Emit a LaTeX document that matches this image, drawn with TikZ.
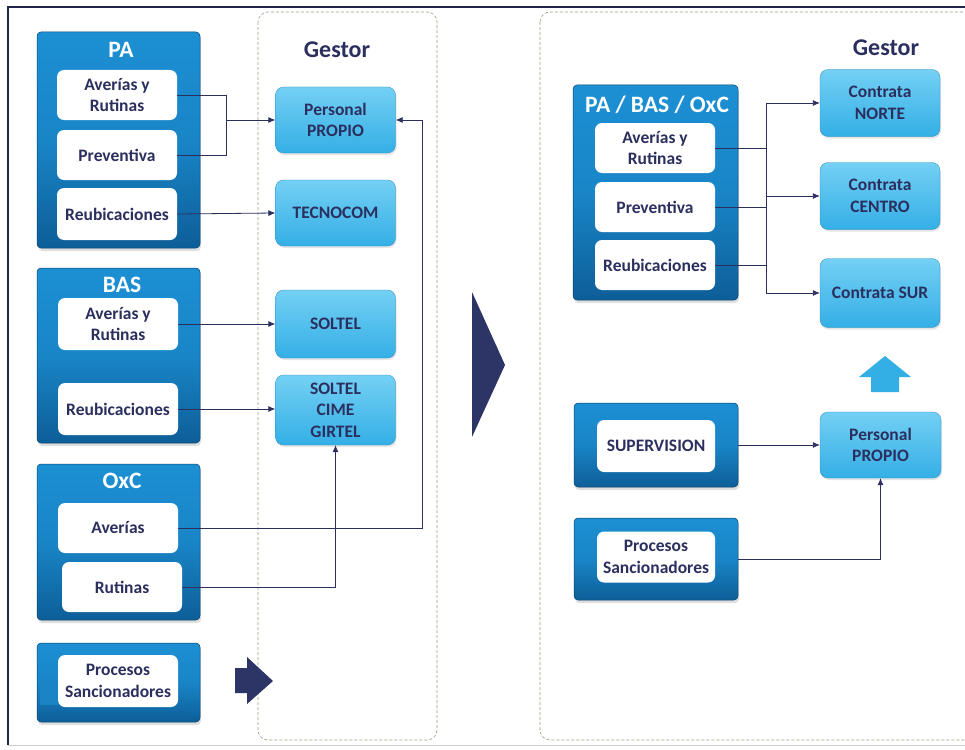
\documentclass[tikz,border=0pt]{standalone}
\usepackage{fontspec}
\setmainfont{Carlito}
\usetikzlibrary{arrows.meta,shadows,calc}
\definecolor{navy}{HTML}{2B2F5E}
\definecolor{deepblue}{HTML}{0D5E98}
\definecolor{midblue}{HTML}{1C8FD3}
\definecolor{skyblue}{HTML}{34AFE6}
\definecolor{skylight}{HTML}{74D0F4}
\definecolor{framegray}{HTML}{9A9C86}
\definecolor{chevron}{HTML}{2C3566}
\tikzset{
  group/.style={draw=deepblue!70!black, line width=0.5pt, rounded corners=4pt,
    top color=midblue, bottom color=deepblue, middle color=midblue!80!deepblue,
    drop shadow={shadow xshift=1pt, shadow yshift=-3pt, opacity=0.25, fill=gray}},
  wbox/.style={fill=white, rounded corners=7pt, text=navy, align=center,
    minimum width=120pt, minimum height=50pt, inner sep=2pt,
    font=\fontsize{17.5}{21.5}\selectfont\bfseries},
  gbox/.style={draw=skyblue!80!black, line width=0.3pt, rounded corners=8pt,
    top color=skylight, bottom color=skyblue, text=navy, align=center,
    minimum width=120pt, minimum height=66pt, inner sep=2pt,
    font=\fontsize{17.5}{21.5}\selectfont\bfseries,
    drop shadow={shadow xshift=1pt, shadow yshift=-2pt, opacity=0.2, fill=gray}},
  grouptitle/.style={text=white, font=\fontsize{23.5}{26}\selectfont\bfseries},
  gestortitle/.style={text=navy, font=\fontsize{24}{28}\selectfont\bfseries},
  panel/.style={draw=framegray, densely dashed, line width=0.6pt, rounded corners=10pt},
  link/.style={draw=navy, line width=0.8pt},
  arrowlink/.style={link, -{Latex[length=7pt,width=6pt]}},
}
\begin{document}
\begin{tikzpicture}[x=1pt, y=-1pt]
  \clip (0,0) rectangle (965,749);
  \fill[white] (0,0) rectangle (965,749);

  % scanned page border
  \draw[navy!80!black, line width=1.2pt] (8,745) -- (8,7) -- (965,7);
  \draw[gray!40, line width=1pt] (8,745) -- (965,745);

  % dashed panels for the managers
  \draw[panel] (258,12) rectangle (437,740);
  \draw[panel] (540,12) rectangle (980,740);

  % ---------------- left side: current organisation ----------------
  \node[group, minimum width=163pt, minimum height=216pt] (gpa) at (118.5,140) {};
  \node[grouptitle] (tpa) at (121,50) {PA};
  \node[wbox] (par) at (117,95) {Averías y\\Rutinas};
  \node[wbox] (pap) at (117,155) {Preventiva};
  \node[wbox, minimum height=52pt] (pre) at (117,214) {Reubicaciones};

  \node[group, minimum width=163pt, minimum height=175pt] (gbas) at (118.5,355.5) {};
  \node[grouptitle] (tbas) at (122,285) {BAS};
  \node[wbox, minimum height=52pt] (bar) at (118,324) {Averías y\\Rutinas};
  \node[wbox, minimum height=52pt] (bre) at (118,409) {Reubicaciones};

  \node[group, minimum width=163pt, minimum height=156pt] (goxc) at (118.5,542) {};
  \node[grouptitle] (toxc) at (122,481) {OxC};
  \node[wbox] (oav) at (118,528) {Averías};
  \node[wbox] (oru) at (122,587) {Rutinas};

  \node[group, minimum width=163pt, minimum height=79pt] (gproc) at (118.5,682.5) {};
  \node[wbox, minimum height=52pt] (lproc) at (118,681) {Procesos\\Sancionadores};
  \fill[midblue!80!deepblue] (40,678) rectangle (58,705);

  \node[gestortitle] (gl) at (337,50) {Gestor};
  \node[gbox] (pp) at (335.5,120) {Personal\\PROPIO};
  \node[gbox] (tec) at (335.5,213) {TECNOCOM};
  \node[gbox, minimum height=68pt] (sol) at (335.5,324) {SOLTEL};
  \node[gbox, minimum height=70pt] (scg) at (335.5,410) {SOLTEL\\CIME\\GIRTEL};

  % connectors on the left
  \coordinate (jpa) at (226,120);
  \draw[link] (par.east) -| (jpa);
  \draw[link] (pap.east) -| (jpa);
  \draw[arrowlink] (jpa) -- (pp.west);
  \draw[arrowlink] (pre.east) -- (tec.west);
  \draw[arrowlink] (bar.east) -- (sol.west);
  \draw[arrowlink] (bre.east) -- (bre.east -| scg.west);
  \coordinate (jav) at (422,120);
  \draw[link] (oav.east) -| (jav);
  \draw[arrowlink] (jav) -- (pp.east);
  \draw[arrowlink] (oru.east) -| (scg.south);

  % small block arrow under the left panel
  \fill[chevron] (235,668) -- (247,668) -- (247,657) -- (273,681)
    -- (247,704) -- (247,693) -- (235,693) -- cycle;

  % large chevron between the two schemes
  \fill[chevron] (472,292) -- (505,365) -- (472,437) -- cycle;

  % ---------------- right side: new organisation ----------------
  \node[gestortitle] (gr) at (886,48) {Gestor};
  \node[group, minimum width=165pt, minimum height=215pt] (gall) at (655.5,192.5) {};
  \node[grouptitle] (tall) at (657,105) {PA / BAS / OxC};
  \node[wbox] (rar) at (655,148) {Averías y\\Rutinas};
  \node[wbox] (rpr) at (655,207) {Preventiva};
  \node[wbox] (rre) at (655,265) {Reubicaciones};

  \node[gbox, minimum height=67pt] (cn) at (880,103) {Contrata\\NORTE};
  \node[gbox, minimum height=67pt] (cc) at (880,196) {Contrata\\CENTRO};
  \node[gbox, minimum height=69pt] (cs) at (880,293) {Contrata SUR};

  \coordinate (jt) at (766,103);
  \coordinate (jb) at (766,293);
  \draw[link] (jt) -- (jb);
  \draw[link] (rar.east) -- (rar.east -| jt);
  \draw[link] (rpr.east) -- (rpr.east -| jt);
  \draw[link] (rre.east) -- (rre.east -| jt);
  \draw[arrowlink] (jt) -- (cn.west);
  \draw[arrowlink] (jt |- cc.west) -- (cc.west);
  \draw[arrowlink] (jb) -- (cs.west);

  % upward block arrow
  \fill[skyblue] (885,356) -- (911,377) -- (899,377) -- (899,392)
    -- (871,392) -- (871,377) -- (859,377) -- cycle;

  \node[group, minimum width=164pt, minimum height=84pt] (gsup) at (656,445) {};
  \node[wbox, minimum width=118pt, minimum height=52pt] (sup) at (656,446) {SUPERVISION};
  \node[group, minimum width=164pt, minimum height=82pt] (grproc) at (656,559) {};
  \node[wbox, minimum width=118pt, minimum height=51pt] (rproc) at (656,557) {Procesos\\Sancionadores};

  \node[gbox, minimum width=121pt] (ppr) at (880.5,445) {Personal\\PROPIO};
  \draw[arrowlink] (gsup.east) -- (gsup.east -| ppr.west);
  \draw[arrowlink] (grproc.east) -| (ppr.south);
\end{tikzpicture}
\end{document}
